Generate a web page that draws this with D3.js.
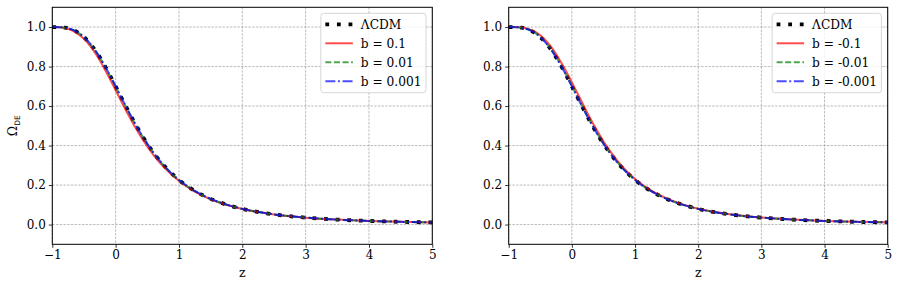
<!DOCTYPE html>
<html>
<head>
<meta charset="utf-8">
<script src="https://cdn.jsdelivr.net/npm/d3@7"></script>
<style>
  body { margin: 0; background: #fff; }
  svg text { font-family: "DejaVu Serif", serif; fill: #000; }
</style>
</head>
<body>
<div id="chart"></div>
<script>
// Redshift grid and Omega_DE values
var zVals = [-1, -0.9, -0.8, -0.7, -0.6, -0.5, -0.4, -0.3, -0.2, -0.1, 0, 0.1, 0.2, 0.3, 0.4, 0.5, 0.6, 0.7, 0.8, 0.9, 1.0, 1.25, 1.5, 1.75, 2.0, 2.5, 3.0, 3.5, 4.0, 4.5, 5.0];

var lcdm = [1.0, 0.9996, 0.9966, 0.9886, 0.9733, 0.949, 0.915, 0.872, 0.820, 0.762, 0.700, 0.637, 0.575, 0.515, 0.460, 0.409, 0.363, 0.322, 0.286, 0.254, 0.226, 0.170, 0.130, 0.101, 0.0795, 0.0516, 0.0352, 0.0250, 0.0183, 0.0138, 0.0107];

// left panel: b > 0
var bPos01 = [1.0, 0.9995, 0.995, 0.985, 0.967, 0.940, 0.903, 0.857, 0.803, 0.743, 0.680, 0.617, 0.556, 0.498, 0.445, 0.396, 0.352, 0.313, 0.279, 0.248, 0.221, 0.167, 0.128, 0.100, 0.079, 0.051, 0.035, 0.025, 0.018, 0.014, 0.011];
var bPos001 = [1.0, 0.9996, 0.9964, 0.9882, 0.9726, 0.948, 0.914, 0.870, 0.818, 0.760, 0.698, 0.635, 0.573, 0.514, 0.459, 0.408, 0.362, 0.321, 0.285, 0.253, 0.2255, 0.1697, 0.1298, 0.101, 0.0795, 0.0516, 0.0352, 0.025, 0.0183, 0.0138, 0.0107];
var bPos0001 = [1.0, 0.9996, 0.9966, 0.9886, 0.9733, 0.949, 0.915, 0.872, 0.820, 0.762, 0.700, 0.637, 0.575, 0.515, 0.460, 0.409, 0.363, 0.322, 0.286, 0.254, 0.226, 0.170, 0.130, 0.101, 0.0795, 0.0516, 0.0352, 0.0250, 0.0183, 0.0138, 0.0107];

// right panel: b < 0
var bNeg01 = [1.0, 0.9997, 0.998, 0.992, 0.979, 0.958, 0.927, 0.887, 0.837, 0.781, 0.720, 0.657, 0.594, 0.532, 0.475, 0.422, 0.374, 0.331, 0.293, 0.260, 0.231, 0.173, 0.132, 0.102, 0.080, 0.052, 0.0355, 0.025, 0.0185, 0.014, 0.011];
var bNeg001 = [1.0, 0.9996, 0.9968, 0.989, 0.974, 0.950, 0.916, 0.874, 0.822, 0.764, 0.702, 0.639, 0.577, 0.517, 0.461, 0.410, 0.364, 0.323, 0.287, 0.2545, 0.2265, 0.1703, 0.1302, 0.101, 0.0795, 0.0516, 0.0352, 0.025, 0.0183, 0.0138, 0.0107];
var bNeg0001 = [1.0, 0.9996, 0.9966, 0.9886, 0.9733, 0.949, 0.915, 0.872, 0.820, 0.762, 0.700, 0.637, 0.575, 0.515, 0.460, 0.409, 0.363, 0.322, 0.286, 0.254, 0.226, 0.170, 0.130, 0.101, 0.0795, 0.0516, 0.0352, 0.0250, 0.0183, 0.0138, 0.0107];

var xTicks = [-1, 0, 1, 2, 3, 4, 5];
var yTicks = [0.0, 0.2, 0.4, 0.6, 0.8, 1.0];
var leftLabels = ["ΛCDM", "b = 0.1", "b = 0.01", "b = 0.001"];
var rightLabels = ["ΛCDM", "b = -0.1", "b = -0.01", "b = -0.001"];

var svgWidth = 900;
var svgHeight = 289;

var svg = d3.select("#chart")
  .append("svg")
  .attr("width", svgWidth)
  .attr("height", svgHeight);

var styles = [
  { color: "#000", width: 3.8, dash: "3.8,7.8", opacity: 1 },
  { color: "#ff0000", width: 2, dash: null, opacity: 0.7 },
  { color: "#008000", width: 2, dash: "6,2.6", opacity: 0.7 },
  { color: "#0000ff", width: 2, dash: "10,2.6,2,2.6", opacity: 0.7 }
];

function drawPanel(left, width, series, labels, yLabel) {
  var top = 7.3;
  var height = 237;

  var g = svg.append("g")
    .attr("transform", `translate(${left}, ${top})`);

  var x = d3.scaleLinear().domain([-1, 5]).range([0, width]);
  var y = d3.scaleLinear().domain([-0.1, 1.1]).range([height, 0]);

  // grid
  g.append("g").selectAll("line")
    .data(xTicks)
    .enter().append("line")
    .attr("x1", d => x(d)).attr("x2", d => x(d))
    .attr("y1", 0).attr("y2", height)
    .attr("stroke", "#a0a0a0").attr("stroke-width", 0.7)
    .attr("stroke-dasharray", "2.5,1.2");
  g.append("g").selectAll("line")
    .data(yTicks)
    .enter().append("line")
    .attr("x1", 0).attr("x2", width)
    .attr("y1", d => y(d)).attr("y2", d => y(d))
    .attr("stroke", "#a0a0a0").attr("stroke-width", 0.7)
    .attr("stroke-dasharray", "2.5,1.2");

  // curves
  var line = d3.line()
    .x((d, i) => x(zVals[i]))
    .y(d => y(d))
    .curve(d3.curveMonotoneX);

  var plot = g.append("g");
  series.forEach(function(s, i) {
    var st = styles[i];
    plot.append("path")
      .datum(s)
      .attr("d", line)
      .attr("fill", "none")
      .attr("stroke", st.color)
      .attr("stroke-width", st.width)
      .attr("stroke-opacity", st.opacity)
      .attr("stroke-dasharray", st.dash);
  });

  // axes
  var bottomAxis = d3.axisBottom(x).tickValues(xTicks).tickSize(3.5).tickPadding(3)
    .tickFormat(d => d < 0 ? "\u2212" + Math.abs(d) : d);
  var leftAxis = d3.axisLeft(y).tickValues(yTicks).tickSize(3.5).tickPadding(3)
    .tickFormat(d3.format(".1f"));

  var xa = g.append("g")
    .attr("transform", `translate(0, ${height})`)
    .call(bottomAxis);
  var ya = g.append("g").call(leftAxis);
  [xa, ya].forEach(function(a) {
    a.select(".domain").remove();
    a.selectAll("text").attr("font-size", 12).attr("font-family", "DejaVu Serif");
    a.selectAll("line").attr("stroke", "#000").attr("stroke-width", 0.8);
  });

  // frame
  g.append("rect")
    .attr("width", width).attr("height", height)
    .attr("fill", "none").attr("stroke", "#000").attr("stroke-width", 1);

  // axis labels
  g.append("text")
    .attr("x", width / 2).attr("y", height + 33)
    .attr("text-anchor", "middle")
    .attr("font-size", 12.5)
    .text("z");

  if (yLabel) {
    var t = g.append("text")
      .attr("transform", `translate(-35, ${y(0.5)}) rotate(-90)`)
      .attr("text-anchor", "middle")
      .attr("font-size", 12.5);
    t.append("tspan").text("Ω");
    t.append("tspan").attr("font-size", 7.5).attr("dy", 3).attr("font-family", "DejaVu Sans").text("DE");
  }

  // legend
  var leg = g.append("g");
  var box = leg.append("rect")
    .attr("rx", 3).attr("ry", 3)
    .attr("fill", "#fff").attr("fill-opacity", 0.8)
    .attr("stroke", "#cccccc").attr("stroke-width", 0.8);

  var texts = [];
  labels.forEach(function(lab, i) {
    var st = styles[i];
    var ly = 17 + i * 19;
    leg.append("line")
      .attr("x1", 4.5).attr("x2", 32)
      .attr("y1", ly).attr("y2", ly)
      .attr("stroke", st.color)
      .attr("stroke-width", st.width)
      .attr("stroke-opacity", st.opacity)
      .attr("stroke-dasharray", st.dash);
    texts.push(leg.append("text")
      .attr("x", 40).attr("y", ly + 4.3)
      .attr("font-size", 12.2)
      .text(lab));
  });
  var maxW = d3.max(texts, t => t.node().getComputedTextLength());
  var boxW = 40 + maxW + 4.5;
  box.attr("x", 0).attr("y", 6).attr("width", boxW).attr("height", 79.4);
  leg.attr("transform", `translate(${width - 6.3 - boxW}, 0)`);
}

drawPanel(52.3, 380, [lcdm, bPos01, bPos001, bPos0001], leftLabels, true);
drawPanel(508.7, 379, [lcdm, bNeg01, bNeg001, bNeg0001], rightLabels, false);
</script>
</body>
</html>
